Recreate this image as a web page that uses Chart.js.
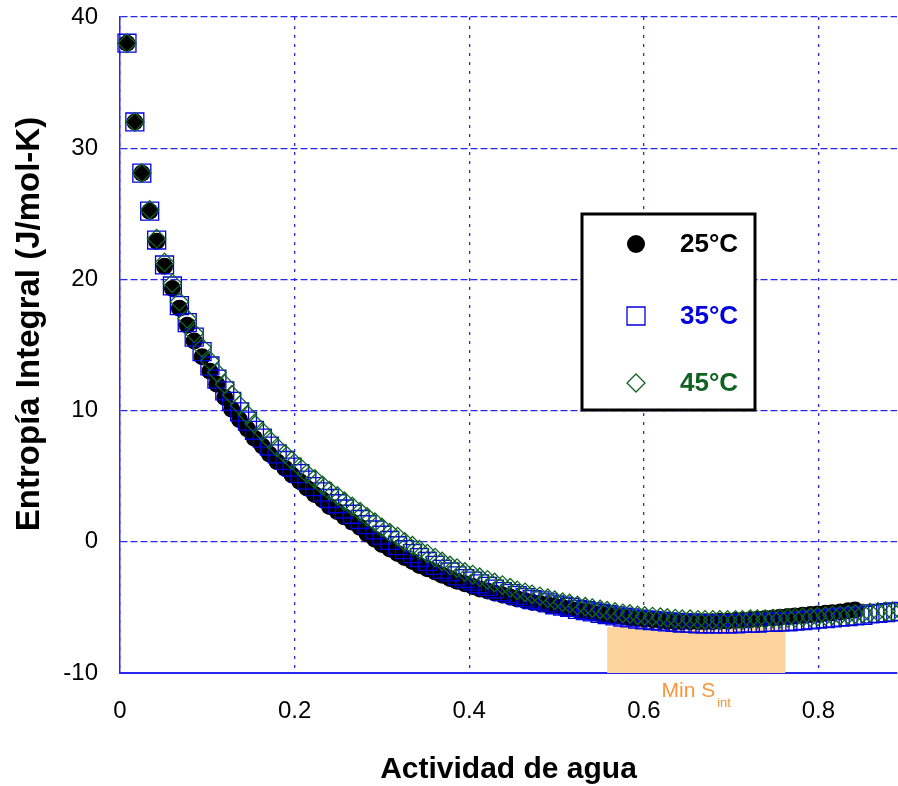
<!DOCTYPE html>
<html>
<head>
<meta charset="utf-8">
<script src="https://cdn.jsdelivr.net/npm/chart.js@4.4.1/dist/chart.umd.min.js"></script>
<style>
  html, body { margin: 0; padding: 0; background: #fff; }
  canvas { display: block; }
</style>
</head>
<body>
<canvas id="entropyChart" width="898" height="786"></canvas>
<script>
// Actividad de agua (shared x values)
var aw = [
  0.008, 0.017, 0.025, 0.034, 0.042, 0.051, 0.060, 0.068, 0.077, 0.085,
  0.094, 0.103, 0.111, 0.120, 0.128, 0.137, 0.146, 0.154, 0.163, 0.171,
  0.180, 0.189, 0.197, 0.206, 0.214, 0.223, 0.232, 0.240, 0.249, 0.257,
  0.266, 0.275, 0.283, 0.292, 0.300, 0.309, 0.318, 0.326, 0.335, 0.343,
  0.352, 0.361, 0.369, 0.378, 0.386, 0.395, 0.404, 0.412, 0.421, 0.429,
  0.438, 0.447, 0.455, 0.464, 0.472, 0.481, 0.490, 0.498, 0.507, 0.515,
  0.524, 0.533, 0.541, 0.550, 0.558, 0.567, 0.576, 0.584, 0.593, 0.601,
  0.610, 0.619, 0.627, 0.636, 0.644, 0.653, 0.662, 0.670, 0.679, 0.687,
  0.696, 0.705, 0.713, 0.722, 0.730, 0.739, 0.748, 0.756, 0.765, 0.773,
  0.782, 0.791, 0.799, 0.808, 0.816, 0.825, 0.834, 0.842, 0.851, 0.859,
  0.868, 0.877, 0.885, 0.894
];

// Entropía integral (J/mol-K) a 25, 35 y 45 °C
var s25 = [
  38.0, 32.0, 28.1, 25.2, 22.9, 21.0, 19.3, 17.8, 16.5, 15.3,
  14.1, 13.0, 12.0, 11.0, 10.1, 9.3, 8.6, 7.9, 7.3, 6.7,
  6.1, 5.6, 5.1, 4.6, 4.1, 3.6, 3.2, 2.7, 2.3, 1.9,
  1.5, 1.1, 0.6, 0.2, -0.2, -0.55, -0.9, -1.2, -1.5, -1.8,
  -2.05, -2.3, -2.55, -2.8, -3.0, -3.2, -3.4, -3.6, -3.75, -3.9,
  -4.05, -4.2, -4.35, -4.5, -4.6, -4.7, -4.8, -4.9, -5.0, -5.1,
  -5.2, -5.3, -5.4, -5.5, -5.55, -5.65, -5.7, -5.8, -5.85, -5.9,
  -5.95, -6.0, -6.05, -6.1, -6.1, -6.1, -6.1, -6.1, -6.1, -6.05,
  -6.05, -6.0, -6.0, -5.95, -5.9, -5.85, -5.8, -5.75, -5.7, -5.65,
  -5.6, -5.55, -5.5, -5.45, -5.4, -5.35, -5.25, -5.2
];
var s35 = [
  38.0, 32.0, 28.1, 25.2, 23.0, 21.1, 19.5, 18.0, 16.7, 15.6,
  14.5, 13.4, 12.4, 11.5, 10.7, 9.9, 9.2, 8.5, 7.9, 7.3,
  6.7, 6.2, 5.7, 5.2, 4.7, 4.2, 3.8, 3.3, 2.9, 2.5,
  2.1, 1.7, 1.3, 0.9, 0.5, 0.1, -0.3, -0.6, -0.9, -1.2,
  -1.5, -1.8, -2.1, -2.3, -2.6, -2.8, -3.0, -3.2, -3.4, -3.6,
  -3.8, -3.95, -4.1, -4.25, -4.4, -4.5, -4.65, -4.8, -4.9, -5.0,
  -5.15, -5.25, -5.35, -5.45, -5.55, -5.65, -5.75, -5.8, -5.9, -5.95,
  -6.0, -6.05, -6.1, -6.15, -6.2, -6.2, -6.25, -6.25, -6.25, -6.25,
  -6.25, -6.25, -6.2, -6.2, -6.2, -6.15, -6.15, -6.1, -6.1, -6.05,
  -6.0, -5.95, -5.9, -5.85, -5.8, -5.75, -5.7, -5.65, -5.6, -5.5,
  -5.45, -5.4, -5.35, -5.3
];
var s45 = [
  38.0, 32.0, 28.1, 25.3, 23.1, 21.3, 19.7, 18.3, 17.0, 15.9,
  14.8, 13.8, 12.9, 12.0, 11.2, 10.4, 9.7, 9.0, 8.4, 7.8,
  7.2, 6.7, 6.2, 5.7, 5.2, 4.8, 4.3, 3.9, 3.5, 3.1,
  2.7, 2.3, 1.9, 1.5, 1.1, 0.7, 0.4, 0.0, -0.3, -0.6,
  -0.9, -1.2, -1.5, -1.8, -2.0, -2.3, -2.5, -2.7, -2.9, -3.1,
  -3.3, -3.5, -3.7, -3.85, -4.0, -4.15, -4.3, -4.45, -4.6, -4.7,
  -4.85, -4.95, -5.05, -5.15, -5.25, -5.35, -5.45, -5.5, -5.6, -5.65,
  -5.7, -5.75, -5.8, -5.85, -5.9, -5.9, -5.95, -5.95, -5.95, -5.95,
  -5.95, -5.95, -5.95, -5.9, -5.9, -5.9, -5.85, -5.85, -5.8, -5.8,
  -5.75, -5.75, -5.7, -5.65, -5.6, -5.6, -5.55, -5.5, -5.45, -5.4,
  -5.35, -5.3, -5.3, -5.25
];

// shaded band around the minimum
var minBandX = [0.558, 0.762];
var minBandY = [-10, -6.5];

var xTicks = [0, 0.2, 0.4, 0.6, 0.8];
var yTicks = [-10, 0, 10, 20, 30, 40];

var series = [
  { label: '25°C', values: s25, color: '#000000' },
  { label: '35°C', values: s35, color: '#0000dd' },
  { label: '45°C', values: s45, color: '#116322' }
];

function toPoints(values) {
  return values.map(function(v, i) { return { x: aw[i], y: v }; });
}

var FONT = "'Liberation Sans', Arial, sans-serif";
var BLUE = '#2727f0';

// orange band + "Min S_int" label
var minBandPlugin = {
  id: 'minBand',
  beforeDatasetsDraw: function(chart) {
    var ctx = chart.ctx, xs = chart.scales.x, ys = chart.scales.y;
    var x0 = xs.getPixelForValue(minBandX[0]), x1 = xs.getPixelForValue(minBandX[1]);
    var y0 = ys.getPixelForValue(minBandY[1]), y1 = ys.getPixelForValue(minBandY[0]);
    ctx.save();
    ctx.fillStyle = 'rgb(253,213,156)';
    ctx.fillRect(x0, y0, x1 - x0, y1 - y0);
    ctx.restore();
  },
  afterDraw: function(chart) {
    var ctx = chart.ctx, xs = chart.scales.x, ys = chart.scales.y;
    var cx = (xs.getPixelForValue(minBandX[0]) + xs.getPixelForValue(minBandX[1])) / 2;
    var base = ys.getPixelForValue(minBandY[0]) + 24;
    ctx.save();
    ctx.fillStyle = 'rgb(247,150,62)';
    ctx.textBaseline = 'alphabetic';
    ctx.font = '21px ' + FONT;
    var w1 = ctx.measureText('Min S').width;
    ctx.font = '13px ' + FONT;
    var w2 = ctx.measureText('int').width;
    var left = cx - (w1 + w2 + 2) / 2;
    ctx.font = '21px ' + FONT;
    ctx.fillText('Min S', left, base);
    ctx.font = '13px ' + FONT;
    ctx.fillText('int', left + w1 + 2, base + 10);
    ctx.restore();
  }
};

// framed legend inside the plot + vertical axis title
var legendBoxPlugin = {
  id: 'legendBox',
  afterDraw: function(chart) {
    var ctx = chart.ctx;
    ctx.save();
    ctx.fillStyle = '#ffffff';
    ctx.fillRect(582, 214, 173, 196);
    ctx.lineWidth = 3;
    ctx.strokeStyle = '#000000';
    ctx.strokeRect(582, 214, 173, 196);

    var rows = [244, 316, 383];
    ctx.font = 'bold 26px ' + FONT;
    ctx.textBaseline = 'middle';
    series.forEach(function(s, i) {
      var y = rows[i], x = 636;
      ctx.lineWidth = 1.3;
      ctx.strokeStyle = s.color;
      ctx.fillStyle = s.color;
      ctx.beginPath();
      if (i === 0) {
        ctx.arc(x, y, 9, 0, Math.PI * 2);
        ctx.fill();
      } else if (i === 1) {
        ctx.rect(x - 9, y - 9, 18, 18);
        ctx.stroke();
      } else {
        ctx.moveTo(x, y - 9); ctx.lineTo(x + 9, y); ctx.lineTo(x, y + 9); ctx.lineTo(x - 9, y);
        ctx.closePath();
        ctx.stroke();
      }
      ctx.fillText(s.label, 680, y + 1);
    });

    ctx.translate(30, 324);
    ctx.rotate(-Math.PI / 2);
    ctx.fillStyle = '#000000';
    ctx.textAlign = 'center';
    ctx.font = 'bold 33px ' + FONT;
    ctx.fillText('Entropía Integral (J/mol-K)', 0, 0);
    ctx.restore();
  }
};

var orders = [3, 2, 1];
var styles = ['circle', 'rect', 'rectRot'];
var radii = [8.5, 12.7, 9.2];

new Chart(document.getElementById('entropyChart').getContext('2d'), {
  type: 'scatter',
  data: {
    datasets: series.map(function(s, i) {
      return {
        label: s.label,
        data: toPoints(s.values),
        order: orders[i],
        pointStyle: styles[i],
        pointRadius: radii[i],
        pointBorderWidth: i === 0 ? 0 : 1.3,
        pointBackgroundColor: i === 0 ? '#000000' : 'rgba(0,0,0,0)',
        pointBorderColor: s.color,
        clip: false
      };
    })
  },
  options: {
    responsive: false,
    animation: false,
    devicePixelRatio: 1,
    layout: { autoPadding: false, padding: { top: 17, right: 1, left: 0, bottom: 0 } },
    plugins: { legend: { display: false }, tooltip: { enabled: false } },
    scales: {
      x: {
        type: 'linear',
        min: 0,
        max: 0.89,
        afterFit: function(scale) {
          scale.height = 113;
          scale.paddingLeft = 0;
          scale.paddingRight = 0;
        },
        afterBuildTicks: function(scale) {
          scale.ticks = xTicks.map(function(v) { return { value: v }; });
        },
        ticks: {
          color: '#000',
          font: { family: FONT, size: 24 },
          padding: 24,
          maxRotation: 0,
          callback: function(v) { return String(v); }
        },
        grid: { color: BLUE, lineWidth: 1.3, drawTicks: false },
        border: { color: BLUE, width: 2, dash: [3, 6] },
        title: {
          display: true,
          text: 'Actividad de agua',
          color: '#000',
          font: { family: FONT, size: 30, weight: 'bold', lineHeight: 1 },
          padding: { top: 0, bottom: 1 }
        }
      },
      y: {
        type: 'linear',
        min: -10,
        max: 40,
        afterFit: function(scale) {
          scale.width = 120;
          scale.paddingTop = 0;
          scale.paddingBottom = 0;
        },
        afterBuildTicks: function(scale) {
          scale.ticks = yTicks.map(function(v) { return { value: v }; });
        },
        ticks: {
          color: '#000',
          font: { family: FONT, size: 24 },
          padding: 22
        },
        grid: { color: BLUE, lineWidth: 1.3, drawTicks: false },
        border: { color: BLUE, width: 1.5, dash: [7, 3] }
      }
    }
  },
  plugins: [minBandPlugin, legendBoxPlugin]
});
</script>
</body>
</html>
